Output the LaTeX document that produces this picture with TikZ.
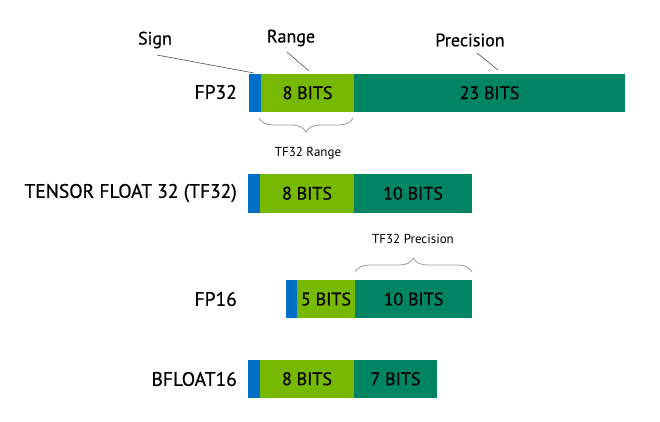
\documentclass[tikz,border=0pt]{standalone}
\usepackage{fontspec}
\setmainfont{PT Sans}[BoldFont={PT Sans}, BoldFeatures={FakeBold=0.6}]
\usetikzlibrary{decorations.pathreplacing}
\definecolor{sgnblue}{HTML}{0070C6}
\definecolor{rnggreen}{HTML}{76B900}
\definecolor{prcteal}{HTML}{008564}
\definecolor{brgray}{HTML}{9A9A9A}
\tikzset{
  seg/.style={rectangle, inner sep=0pt, outer sep=0pt, anchor=north west, font=\fontsize{18}{21}\selectfont\bfseries},
  rowlbl/.style={anchor=east, inner sep=0pt, font=\fontsize{19.5}{22}\selectfont\bfseries},
  toplbl/.style={inner sep=1pt, font=\fontsize{18}{21}\selectfont\bfseries},
  smlbl/.style={inner sep=1pt, font=\fontsize{13}{15}\selectfont},
  lead/.style={draw=black!70, line width=0.6pt},
  bracestyle/.style={draw=brgray, line width=0.8pt, decorate, decoration={brace, amplitude=14pt, aspect=0.5}}
}
\begin{document}
\begin{tikzpicture}[x=1pt, y=-1pt]
\useasboundingbox (0,0) rectangle (660,421);
% FP32
\node[seg, fill=sgnblue, minimum width=12pt, minimum height=37.5pt] (s1) at (249,74) {};
\node[seg, fill=rnggreen, minimum width=93pt, minimum height=37.5pt] (r1) at (261,74) {8 BITS};
\node[seg, fill=prcteal, minimum width=271pt, minimum height=37.5pt] (p1) at (354,74) {23 BITS};
\node[rowlbl] (l1) at (237,92) {FP32};
% TF32
\node[seg, fill=sgnblue, minimum width=12pt, minimum height=38.5pt] (s2) at (248,174) {};
\node[seg, fill=rnggreen, minimum width=94pt, minimum height=38.5pt] (r2) at (260,174) {8 BITS};
\node[seg, fill=prcteal, minimum width=118pt, minimum height=38.5pt] (p2) at (354,174) {10 BITS};
\node[rowlbl] (l2) at (237,193) {TENSOR FLOAT 32 (TF32)};
% FP16
\node[seg, fill=sgnblue, minimum width=11pt, minimum height=38pt] (s3) at (286,280) {};
\node[seg, fill=rnggreen, minimum width=58pt, minimum height=38pt] (r3) at (297,280) {5 BITS};
\node[seg, fill=prcteal, minimum width=117pt, minimum height=38pt] (p3) at (355,280) {10 BITS};
\node[rowlbl] (l3) at (237,299) {FP16};
% BFLOAT16
\node[seg, fill=sgnblue, minimum width=12pt, minimum height=37.5pt] (s4) at (248,360) {};
\node[seg, fill=rnggreen, minimum width=94pt, minimum height=37.5pt] (r4) at (260,360) {8 BITS};
\node[seg, fill=prcteal, minimum width=83pt, minimum height=37.5pt] (p4) at (354,360) {7 BITS};
\node[rowlbl] (l4) at (237,379) {BFLOAT16};
% top labels
\node[toplbl] (sign) at (155,40) {Sign};
\node[toplbl] (range) at (291,38) {Range};
\node[toplbl] (prec) at (470,40) {Precision};
\coordinate (se) at (254,73);
\coordinate (re) at (309,71);
\coordinate (pe) at (498,70);
\draw[lead] (157,55) -- (se);
\draw[lead] (287,52) -- (re);
\draw[lead] (477,53) -- (pe);
% braces
\coordinate (b1a) at (353,118);
\coordinate (b1b) at (259,118);
\draw[bracestyle] (b1a) -- (b1b);
\node[smlbl] (tfr) at (308,153) {TF32 Range};
\coordinate (b2a) at (355,272);
\coordinate (b2b) at (472,272);
\draw[bracestyle] (b2a) -- (b2b);
\node[smlbl] (tfp) at (413,239) {TF32 Precision};
\end{tikzpicture}
\end{document}
